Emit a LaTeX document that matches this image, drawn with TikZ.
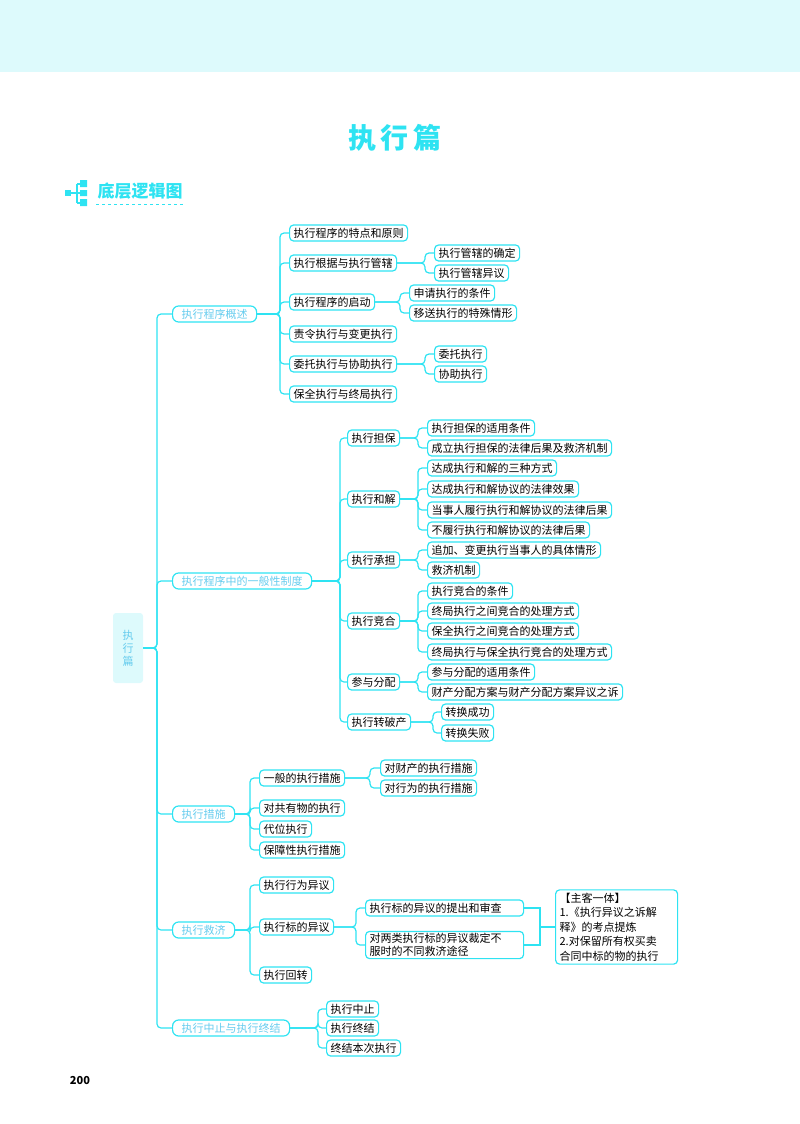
\documentclass[tikz,border=0pt]{standalone}
\usepackage{fontspec}
\setmainfont{Noto Sans CJK SC}
\definecolor{cy}{HTML}{2EE3F2}
\definecolor{lb}{HTML}{66CCEE}
\definecolor{bg}{HTML}{DDFAFC}
\tikzset{
 bx/.style={draw=cy,line width=1.2pt,rounded corners=4pt,anchor=west,inner xsep=4pt,inner ysep=1pt,minimum height=16pt,font=\fontsize{11}{13}\selectfont},
 lv/.style={bx,inner xsep=9pt,rounded corners=6pt,text=lb,font=\fontsize{11}{13}\selectfont\color{lb}},
 conn/.style={draw=cy,line width=1.2pt,rounded corners=4pt}
}
\newcommand{\lk}[3]{\draw[conn] (#1.east) -- (#2,0 |- #1.east) |- (#3.west);}
\begin{document}
\begin{tikzpicture}[x=1pt,y=-1pt]
\useasboundingbox (0,0) rectangle (800,1124);
\fill[bg] (0,0) rectangle (800,72);
\node (title) at (395,138) {\fontsize{28}{30}\selectfont\bfseries\color{cy}执\,行\,篇};
% header icon
\fill[cy] (65,190) rectangle (71,196);
\draw[cy,line width=1.5pt] (71,193) -- (77,193) (77,184) -- (77,203) (77,184)--(80,184) (77,193)--(80,193) (77,203)--(80,203);
\fill[cy] (80,180) rectangle (87,187) (80,190) rectangle (87,196) (80,199) rectangle (87,206);
\node (hd) at (140,191) {\fontsize{17}{19}\selectfont\bfseries\color{cy}底层逻辑图};
\draw[cy,dashed,line width=0.8pt] (96,204) -- (185,204);
\node (pg) at (80,1080) {\fontsize{11}{13}\selectfont\bfseries 200};
% root
\node[fill=bg,rounded corners=3pt,minimum width=30pt,minimum height=70pt,align=center,font=\fontsize{11}{13}\selectfont\color{lb}] (root) at (128,648) {执\\行\\篇};
% level1
\node[lv] (a) at (172,314) {执行程序概述};
\node[lv] (b) at (172,581) {执行程序中的一般性制度};
\node[lv] (c) at (172,814) {执行措施};
\node[lv] (d) at (172,930) {执行救济};
\node[lv] (e) at (172,1028) {执行中止与执行终结};
\foreach \n in {a,b,c,d,e} {\lk{root}{157}{\n}}
% group a
\node[bx] (a1) at (289,233) {执行程序的特点和原则};
\node[bx] (a2) at (289,263) {执行根据与执行管辖};
\node[bx] (a21) at (434,253) {执行管辖的确定};
\node[bx] (a22) at (434,273) {执行管辖异议};
\node[bx] (a3) at (289,302) {执行程序的启动};
\node[bx] (a31) at (409,293) {申请执行的条件};
\node[bx] (a32) at (409,313) {移送执行的特殊情形};
\node[bx] (a4) at (289,334) {责令执行与变更执行};
\node[bx] (a5) at (289,364) {委托执行与协助执行};
\node[bx] (a51) at (434,354) {委托执行};
\node[bx] (a52) at (434,374) {协助执行};
\node[bx] (a6) at (289,394) {保全执行与终局执行};
\foreach \n in {a1,a2,a3,a4,a5,a6} {\lk{a}{280}{\n}}
\foreach \n in {a21,a22} {\lk{a2}{425}{\n}}
\foreach \n in {a31,a32} {\lk{a3}{400}{\n}}
\foreach \n in {a51,a52} {\lk{a5}{425}{\n}}
% group b
\node[bx] (b1) at (347,438) {执行担保};
\node[bx] (b11) at (427,428) {执行担保的适用条件};
\node[bx] (b12) at (427,448) {成立执行担保的法律后果及救济机制};
\node[bx] (b2) at (347,499) {执行和解};
\node[bx] (b21) at (427,468) {达成执行和解的三种方式};
\node[bx] (b22) at (427,489) {达成执行和解协议的法律效果};
\node[bx] (b23) at (427,510) {当事人履行执行和解协议的法律后果};
\node[bx] (b24) at (427,530) {不履行执行和解协议的法律后果};
\node[bx] (b3) at (347,560) {执行承担};
\node[bx] (b31) at (427,550) {追加、变更执行当事人的具体情形};
\node[bx] (b32) at (427,570) {救济机制};
\node[bx] (b4) at (347,621) {执行竞合};
\node[bx] (b41) at (427,591) {执行竞合的条件};
\node[bx] (b42) at (427,611) {终局执行之间竞合的处理方式};
\node[bx] (b43) at (427,631) {保全执行之间竞合的处理方式};
\node[bx] (b44) at (427,652) {终局执行与保全执行竞合的处理方式};
\node[bx] (b5) at (347,682) {参与分配};
\node[bx] (b51) at (427,672) {参与分配的适用条件};
\node[bx] (b52) at (427,692) {财产分配方案与财产分配方案异议之诉};
\node[bx] (b6) at (347,722) {执行转破产};
\node[bx] (b61) at (441,712) {转换成功};
\node[bx] (b62) at (441,733) {转换失败};
\foreach \n in {b1,b2,b3,b4,b5,b6} {\lk{b}{340}{\n}}
\foreach \n in {b11,b12} {\lk{b1}{418}{\n}}
\foreach \n in {b21,b22,b23,b24} {\lk{b2}{418}{\n}}
\foreach \n in {b31,b32} {\lk{b3}{418}{\n}}
\foreach \n in {b41,b42,b43,b44} {\lk{b4}{418}{\n}}
\foreach \n in {b51,b52} {\lk{b5}{418}{\n}}
\foreach \n in {b61,b62} {\lk{b6}{433}{\n}}
% group c
\node[bx] (c1) at (259,778) {一般的执行措施};
\node[bx] (c11) at (380,768) {对财产的执行措施};
\node[bx] (c12) at (380,788) {对行为的执行措施};
\node[bx] (c2) at (259,808) {对共有物的执行};
\node[bx] (c3) at (259,829) {代位执行};
\node[bx] (c4) at (259,850) {保障性执行措施};
\foreach \n in {c1,c2,c3,c4} {\lk{c}{250}{\n}}
\foreach \n in {c11,c12} {\lk{c1}{370}{\n}}
% group d
\node[bx] (d1) at (259,885) {执行行为异议};
\node[bx] (d2) at (259,927) {执行标的异议};
\node[bx,text width=150pt,align=left] (d21) at (365,908) {执行标的异议的提出和审查};
\node[bx,text width=150pt,align=left,inner ysep=2pt] (d22) at (365,945) {对两类执行标的异议裁定不\\服时的不同救济途径};
\node[bx] (d3) at (259,975) {执行回转};
\foreach \n in {d1,d2,d3} {\lk{d}{250}{\n}}
\foreach \n in {d21,d22} {\lk{d2}{356}{\n}}
\node[bx,text width=114pt,align=left,inner ysep=3pt,font=\fontsize{11}{14.5}\selectfont] (note) at (555,927) {【主客一体】\\1.《执行异议之诉解\\释》的考点提炼\\2.对保留所有权买卖\\合同中标的物的执行};
\draw[conn,rounded corners=0pt] (d21.east) -- (540,908) -- (540,945) -- (d22.east);
\draw[conn] (540,927) -- (note.west);
% group e
\node[bx] (e1) at (326,1009) {执行中止};
\node[bx] (e2) at (326,1028) {执行终结};
\node[bx] (e3) at (326,1048) {终结本次执行};
\foreach \n in {e1,e2,e3} {\lk{e}{318}{\n}}
\end{tikzpicture}
\end{document}
